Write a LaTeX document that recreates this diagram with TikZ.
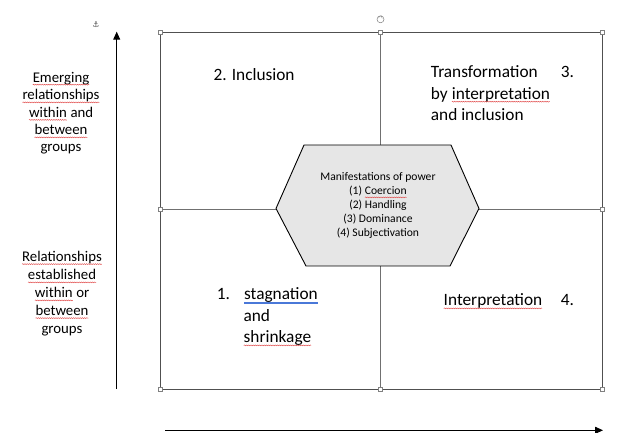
\documentclass[tikz,border=0pt]{standalone}
\usepackage{fontspec}
\setmainfont{Carlito}
\newfontfamily\symfont{DejaVu Sans}
\usetikzlibrary{arrows.meta,decorations.pathmorphing}
\definecolor{sqred}{HTML}{E04848}
\definecolor{gblue}{HTML}{4A78D8}
\definecolor{hexfill}{HTML}{E6E6E6}
\definecolor{gridc}{HTML}{505050}
\definecolor{innerc}{HTML}{707070}
\newcommand\sqw[1]{\tikz[baseline=(w.base)]{\node[inner sep=0pt,outer sep=0pt](w){#1};\draw[sqred,line width=0.45pt,decorate,decoration={snake,amplitude=0.45pt,segment length=2.2pt}]([yshift=-2.4pt]w.base west)--([yshift=-2.4pt]w.base east);}}
\newcommand\blw[1]{\tikz[baseline=(w.base)]{\node[inner sep=0pt,outer sep=0pt](w){#1};\draw[gblue,line width=1.3pt]([yshift=-3pt]w.base west)--([yshift=-3pt]w.base east);}}
\tikzset{
  quad/.style={inner sep=0pt, font=\fontsize{17.3}{21.5}\selectfont},
  lab/.style={inner sep=0pt, font=\fontsize{14.8}{18}\selectfont},
  hext/.style={inner sep=0pt, font=\fontsize{11.6}{14}\selectfont},
  handle/.style={draw=gray, fill=white, line width=0.4pt, minimum size=4pt, inner sep=0pt},
  axis/.style={line width=0.9pt, -{Triangle[length=8pt,width=7pt]}},
}
\begin{document}
\begin{tikzpicture}[x=1pt,y=-1pt]
\useasboundingbox (0,0) rectangle (641,433);
% grid
\coordinate (tl) at (160,32.3);
\coordinate (tm) at (380,32.3);
\coordinate (tr) at (602.3,32.3);
\coordinate (ml) at (160,209.5);
\coordinate (mr) at (602.3,209.5);
\coordinate (bl) at (160,389);
\coordinate (bm) at (380,389);
\coordinate (br) at (602.3,389);
\draw[innerc, line width=0.8pt] (tm) -- (bm);
\draw[innerc, line width=0.8pt] (ml) -- (mr);
\draw[gridc, line width=1pt] (tl) rectangle (br);
% hexagon
\draw[black, line width=0.9pt, fill=hexfill]
  (276,208.5) -- (304,145) -- (451,145) -- (479,208.5) -- (450,266) -- (306,266) -- cycle;
\node[hext, anchor=base] (h0) at (378,181) {Manifestations of power};
\node[hext, anchor=base] (h1) at (378,195) {(1) \sqw{Coercion}};
\node[hext, anchor=base] (h2) at (378,209) {(2) Handling};
\node[hext, anchor=base] (h3) at (378,223) {(3) Dominance};
\node[hext, anchor=base] (h4) at (378,237) {(4) Subjectivation};
% quadrant texts
\node[quad, anchor=base west] (q2) at (213.3,81) {2. Inclusion};
\node[quad, anchor=base west] (q3a) at (430.7,77.3) {Transformation};
\node[quad, anchor=base west] (q3n) at (560.7,77.3) {3.};
\node[quad, anchor=base west] (q3b) at (430.7,99.3) {by \sqw{interpretation}};
\node[quad, anchor=base west] (q3c) at (430.7,120.5) {and inclusion};
\node[quad, anchor=base west] (q1n) at (216.7,300) {1.};
\node[quad, anchor=base west] (q1a) at (243.3,300) {\blw{stagnation}};
\node[quad, anchor=base west] (q1b) at (243.3,321.5) {and};
\node[quad, anchor=base west] (q1c) at (243.3,343) {\sqw{shrinkage}};
\node[quad, anchor=base west] (q4) at (443.3,306) {\sqw{Interpretation}};
\node[quad, anchor=base west] (q4n) at (560.7,306) {4.};
% left labels
\node[lab, anchor=base] (e1) at (61,82.3) {\sqw{Emerging}};
\node[lab, anchor=base] (e2) at (61,100) {\sqw{relationships}};
\node[lab, anchor=base] (e3) at (61,117.5) {\sqw{within} and};
\node[lab, anchor=base] (e4) at (61,135) {\sqw{between}};
\node[lab, anchor=base] (e5) at (61,152) {groups};
\node[lab, anchor=base] (r1) at (62,261.7) {\sqw{Relationships}};
\node[lab, anchor=base] (r2) at (62,280) {\sqw{established}};
\node[lab, anchor=base] (r3) at (62,298) {\sqw{within} or};
\node[lab, anchor=base] (r4) at (62,315.7) {\sqw{between}};
\node[lab, anchor=base] (r5) at (62,333.3) {groups};
% axes
\coordinate (vb) at (116.7,389);
\coordinate (vt) at (116.7,31.7);
\coordinate (hl) at (165,430.3);
\coordinate (hr) at (603,430.3);
\draw[axis] (vb) -- (vt);
\draw[axis] (hl) -- (hr);
% selection handles
\foreach \p in {tl,tm,tr,ml,mr,bl,bm,br} \node[handle] (hd-\p) at (\p) {};
\node[draw=gray, circle, minimum size=7pt, inner sep=0pt, line width=0.5pt] (rot) at (380.5,19.3) {};
\draw[gray, line width=0.4pt] (rot.center) ++(1.6,-1) arc[start angle=-30, end angle=200, radius=1.8pt];
\node[inner sep=0pt, text=gray!60!black, font=\symfont\fontsize{8}{8}\selectfont] (anc) at (96,25) {⚓};
\end{tikzpicture}
\end{document}
